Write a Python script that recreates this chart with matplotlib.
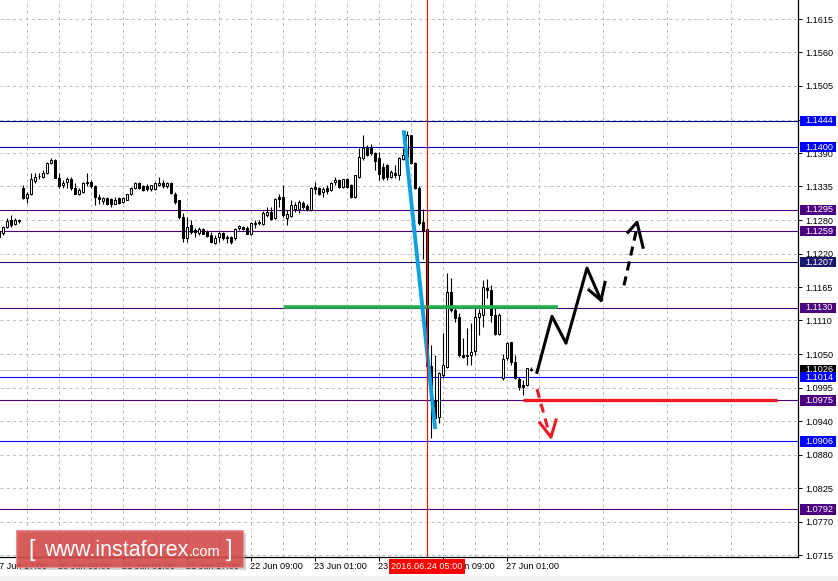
import numpy as np
import matplotlib.pyplot as plt
from matplotlib.patches import Rectangle, FancyBboxPatch
from matplotlib.transforms import blended_transform_factory

plt.rcParams['font.family'] = ['Liberation Sans', 'DejaVu Sans']

# EURUSD H1, bars from 17 Jun 18:00 up to 27 Jun 07:00 (bar 0 would be 17 Jun 17:00)
opens = [1.1249, 1.1256, 1.1266, 1.1278, 1.1271, 1.1276, 1.1331, 1.1314, 1.1321, 1.1343,
         1.1351, 1.1350, 1.1356, 1.1373, 1.1378, 1.1349, 1.1336, 1.1341, 1.1346, 1.1332,
         1.1321, 1.1325, 1.1340, 1.1342, 1.1335, 1.1317, 1.1309, 1.1314, 1.1313, 1.1305,
         1.1314, 1.1308, 1.1312, 1.1321, 1.1331, 1.1339, 1.1335, 1.1335, 1.1329, 1.1329,
         1.1336, 1.1340, 1.1334, 1.1340, 1.1322, 1.1311, 1.1283, 1.1247, 1.1269, 1.1261,
         1.1256, 1.1262, 1.1258, 1.1252, 1.1239, 1.1249, 1.1256, 1.1249, 1.1249, 1.1247,
         1.1264, 1.1266, 1.1265, 1.1255, 1.1271, 1.1272, 1.1271, 1.1286, 1.1291, 1.1281,
         1.1317, 1.1317, 1.1281, 1.1285, 1.1296, 1.1297, 1.1307, 1.1301, 1.1294, 1.1333,
         1.1331, 1.1325, 1.1332, 1.1328, 1.1341, 1.1345, 1.1333, 1.1347, 1.1336, 1.1317,
         1.1350, 1.1381, 1.1401, 1.1399, 1.1390, 1.1381, 1.1367, 1.1370, 1.1350, 1.1357,
         1.1353, 1.1380, 1.1384, 1.1420, 1.1374, 1.1331, 1.1275, 1.1262, 1.1032, 1.0975,
         1.0947, 1.1017, 1.1031, 1.1157, 1.1126, 1.1115, 1.1051, 1.1051, 1.1051, 1.1057,
         1.1115, 1.1119, 1.1164, 1.1160, 1.1119, 1.1086, 1.1012, 1.1046, 1.1073, 1.1039,
         1.1010, 1.1000, 1.1000, 1.1027]
highs = [1.1261, 1.1268, 1.1281, 1.1286, 1.1281, 1.1279, 1.1336, 1.1324, 1.1356, 1.1356,
         1.1356, 1.1361, 1.1375, 1.1381, 1.1380, 1.1357, 1.1345, 1.1350, 1.1350, 1.1339,
         1.1331, 1.1341, 1.1356, 1.1345, 1.1336, 1.1322, 1.1317, 1.1317, 1.1314, 1.1317,
         1.1317, 1.1317, 1.1322, 1.1333, 1.1342, 1.1342, 1.1336, 1.1338, 1.1337, 1.1342,
         1.1350, 1.1345, 1.1342, 1.1342, 1.1325, 1.1312, 1.1289, 1.1283, 1.1278, 1.1265,
         1.1266, 1.1265, 1.1261, 1.1258, 1.1252, 1.1258, 1.1258, 1.1252, 1.1251, 1.1264,
         1.1269, 1.1268, 1.1268, 1.1275, 1.1278, 1.1278, 1.1293, 1.1299, 1.1300, 1.1314,
         1.1322, 1.1336, 1.1294, 1.1311, 1.1308, 1.1311, 1.1309, 1.1304, 1.1333, 1.1342,
         1.1333, 1.1333, 1.1336, 1.1342, 1.1350, 1.1347, 1.1347, 1.1349, 1.1338, 1.1354,
         1.1398, 1.1420, 1.1404, 1.1406, 1.1392, 1.1392, 1.1373, 1.1371, 1.1361, 1.1370,
         1.1384, 1.1398, 1.1427, 1.1421, 1.1375, 1.1335, 1.1297, 1.1264, 1.1068, 1.1051,
         1.1022, 1.1088, 1.1188, 1.1180, 1.1131, 1.1121, 1.1079, 1.1096, 1.1104, 1.1132,
         1.1129, 1.1177, 1.1178, 1.1168, 1.1132, 1.1121, 1.1052, 1.1073, 1.1073, 1.1051,
         1.1014, 1.1009, 1.1030, 1.1031]
lows = [1.1246, 1.1252, 1.1264, 1.1266, 1.1269, 1.1272, 1.1313, 1.1306, 1.1319, 1.1339,
        1.1346, 1.1349, 1.1355, 1.1371, 1.1348, 1.1332, 1.1332, 1.1332, 1.1328, 1.1321,
        1.1319, 1.1323, 1.1335, 1.1332, 1.1303, 1.1304, 1.1305, 1.1303, 1.1300, 1.1304,
        1.1305, 1.1307, 1.1311, 1.1319, 1.1329, 1.1329, 1.1327, 1.1326, 1.1327, 1.1328,
        1.1334, 1.1332, 1.1332, 1.1322, 1.1305, 1.1280, 1.1241, 1.1241, 1.1255, 1.1249,
        1.1252, 1.1254, 1.1249, 1.1239, 1.1238, 1.1241, 1.1244, 1.1239, 1.1238, 1.1244,
        1.1261, 1.1261, 1.1254, 1.1252, 1.1264, 1.1269, 1.1269, 1.1283, 1.1278, 1.1280,
        1.1300, 1.1283, 1.1270, 1.1283, 1.1291, 1.1289, 1.1297, 1.1292, 1.1292, 1.1322,
        1.1319, 1.1317, 1.1322, 1.1326, 1.1337, 1.1331, 1.1332, 1.1332, 1.1315, 1.1315,
        1.1348, 1.1378, 1.1385, 1.1387, 1.1362, 1.1345, 1.1345, 1.1345, 1.1348, 1.1348,
        1.1345, 1.1378, 1.1381, 1.1371, 1.1330, 1.1269, 1.1213, 1.1012, 1.0912, 1.0930,
        1.0937, 1.1012, 1.1029, 1.1123, 1.1106, 1.1047, 1.1046, 1.1034, 1.1034, 1.1051,
        1.1084, 1.1098, 1.1146, 1.1107, 1.1084, 1.1084, 1.1009, 1.1042, 1.1034, 1.1010,
        1.0992, 1.0984, 1.0999, 1.1024]
closes = [1.1259, 1.1266, 1.1276, 1.1269, 1.1278, 1.1277, 1.1314, 1.1321, 1.1346, 1.1350,
          1.1352, 1.1356, 1.1374, 1.1378, 1.1349, 1.1335, 1.1340, 1.1346, 1.1332, 1.1322,
          1.1328, 1.1340, 1.1341, 1.1335, 1.1316, 1.1313, 1.1315, 1.1305, 1.1304, 1.1312,
          1.1307, 1.1314, 1.1321, 1.1331, 1.1339, 1.1331, 1.1328, 1.1329, 1.1336, 1.1340,
          1.1340, 1.1334, 1.1340, 1.1323, 1.1308, 1.1283, 1.1247, 1.1266, 1.1258, 1.1257,
          1.1262, 1.1255, 1.1251, 1.1241, 1.1247, 1.1256, 1.1247, 1.1247, 1.1241, 1.1262,
          1.1268, 1.1262, 1.1255, 1.1272, 1.1273, 1.1275, 1.1289, 1.1291, 1.1280, 1.1313,
          1.1313, 1.1286, 1.1287, 1.1303, 1.1303, 1.1308, 1.1300, 1.1296, 1.1331, 1.1329,
          1.1322, 1.1329, 1.1326, 1.1339, 1.1345, 1.1333, 1.1346, 1.1333, 1.1317, 1.1353,
          1.1384, 1.1398, 1.1387, 1.1390, 1.1376, 1.1355, 1.1348, 1.1350, 1.1359, 1.1353,
          1.1381, 1.1387, 1.1420, 1.1373, 1.1331, 1.1272, 1.1259, 1.1033, 1.0975, 1.0945,
          1.1021, 1.1034, 1.1157, 1.1126, 1.1113, 1.1051, 1.1048, 1.1049, 1.1056, 1.1115,
          1.1121, 1.1165, 1.1161, 1.1119, 1.1086, 1.1119, 1.1045, 1.1071, 1.1040, 1.1012,
          1.0997, 1.0997, 1.1029, 1.1026]

# time axis labels (bar numbers counted from 17 Jun 17:00)
time_ticks = [0, 16, 32, 48, 64, 80, 96, 112, 128]
time_labels = ["17 Jun 17:00", "20 Jun 09:00", "21 Jun 01:00", "21 Jun 17:00",
               "22 Jun 09:00", "23 Jun 01:00", "23 Jun 17:00", "24 Jun 09:00",
               "27 Jun 01:00"]
cursor_bar = 108
cursor_label = "2016.06.24 05:00"

price_ticks = [1.1615, 1.1559, 1.1503, 1.1446, 1.1390, 1.1334, 1.1277, 1.1221, 1.1165,
               1.1109, 1.1052, 1.0996, 1.0940, 1.0884, 1.0827, 1.0771, 1.0715]
price_labels = ["1.1615", "1.1560", "1.1505", "1.1450", "1.1390", "1.1335", "1.1280",
                "1.1220", "1.1165", "1.1110", "1.1050", "1.0995", "1.0940", "1.0880",
                "1.0825", "1.0770", "1.0715"]

# horizontal levels and their axis tags
level_prices = [1.1444, 1.1400, 1.1295, 1.1259, 1.1207, 1.1130, 1.1026, 1.1014, 1.0975, 1.0906, 1.0792]
level_colors = ["#0000ff", "#0000ff", "#4b0082", "#4b0082", "#191970", "#4b0082",
                "#000000", "#0000ff", "#4b0082", "#0000ff", "#4b0082"]
level_line_colors = ["#00008b", "#0000cd", "#4b0082", "#4b0082", "#191970", "#4b0082",
                     "#c0c0c0", "#0000ff", "#4b0082", "#0000ff", "#4b0082"]

# analyst drawings (bar number, price)
blue_bar = [102.25, 110.0]
blue_price = [1.1425, 1.0930]
green_bar = [72.25, 140.75]
green_price = [1.1131, 1.1131]
red_bar = [132.0, 195.5]
red_price = [1.0976, 1.0976]
red_arrow_bar = [135.5, 138.6]
red_arrow_price = [1.0994, 1.0918]
red_head_bar = [136.25, 139.0, 140.25]
red_head_price = [1.0937, 1.0913, 1.0942]
path_bar = [135.5, 139.25, 142.75, 148.0, 151.5]
path_price = [1.1022, 1.1116, 1.1071, 1.1197, 1.1143]
path_head_bar = [148.5, 151.5, 152.5]
path_head_price = [1.1160, 1.1143, 1.1173]
dash_bar = [157.25, 160.5]
dash_price = [1.1168, 1.1265]
dash_head_bar = [158.25, 160.5, 162.0]
dash_head_price = [1.1257, 1.1274, 1.1232]

W, H = 838, 581
fig = plt.figure(figsize=(W / 100, H / 100), dpi=100)
ax = fig.add_axes([0, 24 / H, 798 / W, 557 / H])
ax.set_xlim(1.25, 200.75)
ax.set_ylim(1.0712, 1.1647)

for s in ['left', 'top']:
    ax.spines[s].set_visible(False)
for s in ['right', 'bottom']:
    ax.spines[s].set_linewidth(0.9)

# grid
ax.set_yticks(price_ticks)
ax.set_yticklabels(price_labels)
ax.yaxis.tick_right()
ax.tick_params(axis='y', length=3, width=0.7, pad=2, labelsize=6.6)
ax.set_xticks(time_ticks[1:])
ax.set_xticklabels([])
ax.set_xticks(np.arange(8, 200, 16), minor=True)
ax.tick_params(axis='x', which='major', length=3, width=0.7)
ax.tick_params(axis='x', which='minor', length=0)
ax.grid(True, which='both', color='#c0c0c0', linestyle=(0, (3, 3)), linewidth=0.75, zorder=0)
ax.set_axisbelow(True)

for lab, tb in zip(time_labels, time_ticks):
    ax.annotate(lab, xy=(tb, 0), xycoords=('data', 'axes fraction'), xytext=(-0.5, -3.6),
                textcoords='offset points', ha='left', va='top', fontsize=6.6,
                annotation_clip=False, zorder=6)

# levels
trans = blended_transform_factory(ax.transAxes, ax.transData)
for p, c, lc in zip(level_prices, level_colors, level_line_colors):
    ax.axhline(p, color=lc, lw=0.8, zorder=1)
    ax.add_patch(Rectangle((1.0025, p - 0.00087), 0.0455, 0.00174, transform=trans,
                           facecolor=c, edgecolor='none', clip_on=False, zorder=8))
    ax.text(1.0088, p, "%.4f" % p, transform=trans, color='white', fontsize=6.6,
            va='center', ha='left', clip_on=False, zorder=9)

# candles
o = np.array(opens)
h = np.array(highs)
l = np.array(lows)
c = np.array(closes)
t = np.arange(1, len(o) + 1)
up = c >= o
ax.vlines(t, l, h, color='black', lw=0.8, zorder=3)
ax.bar(t[up], (c - o)[up], bottom=o[up], width=0.68, color='white', edgecolor='black',
       linewidth=0.75, zorder=4)
ax.bar(t[~up], (o - c)[~up], bottom=c[~up], width=0.68, color='black', edgecolor='black',
       linewidth=0.75, zorder=4)

# drawings
ax.plot(green_bar, green_price, color='#22b14c', lw=2.6, zorder=5, solid_capstyle='butt')
ax.plot(blue_bar, blue_price, color='#10a0e0', lw=2.8, zorder=6)
ax.plot(red_bar, red_price, color='#ed1c24', lw=2.4, zorder=5, solid_capstyle='butt')
ax.plot(red_arrow_bar, red_arrow_price, color='#ed1c24', lw=2.2, ls=(0, (3, 2)), zorder=6)
ax.plot(red_head_bar, red_head_price, color='#ed1c24', lw=2.2, zorder=6)
ax.plot(path_bar, path_price, color='black', lw=2.2, zorder=6)
ax.plot(path_head_bar, path_head_price, color='black', lw=2.2, zorder=6)
ax.plot(dash_bar, dash_price, color='black', lw=2.2, ls=(0, (3, 2)), zorder=6)
ax.plot(dash_head_bar, dash_head_price, color='black', lw=2.2, zorder=6)

# crosshair time
ax.axvline(cursor_bar, color='red', lw=0.8, zorder=7)
ax.annotate(cursor_label, xy=(cursor_bar, 0), xycoords=('data', 'axes fraction'),
            xytext=(0, -3.6), textcoords='offset points', ha='center', va='top',
            fontsize=6.6, color='white', annotation_clip=False, zorder=10,
            bbox=dict(boxstyle='square,pad=0.3', fc='#ff0000', ec='none'))

# bottom strip
fig.patches.append(Rectangle((0, 0), 1, 5 / H, transform=fig.transFigure,
                             facecolor='#f0f0f0', edgecolor='none', zorder=0))

# watermark
def px(x, y):
    return x / W, 1 - y / H

fig.patches.append(FancyBboxPatch(px(19, 570), 227 / W, 37 / H, boxstyle='square,pad=0',
                                  transform=fig.transFigure, facecolor='#808080', alpha=0.35,
                                  edgecolor='none', zorder=20))
fig.patches.append(FancyBboxPatch(px(16, 567), 227 / W, 37 / H, boxstyle='square,pad=0',
                                  transform=fig.transFigure, facecolor='#d84848', alpha=0.85,
                                  edgecolor='#e89090', linewidth=0.8, zorder=21))
fig.text(*px(28, 556), "[", color='white', fontsize=17, va='baseline', ha='left', zorder=22)
fig.text(*px(44, 556), "www.instaforex", color='white', fontsize=15.5, va='baseline', ha='left', zorder=22)
fig.text(*px(189, 556), ".com", color='white', fontsize=10.5, va='baseline', ha='left', zorder=22)
fig.text(*px(226, 556), "]", color='white', fontsize=17, va='baseline', ha='left', zorder=22)

fig.savefig('out.png', dpi=100)
